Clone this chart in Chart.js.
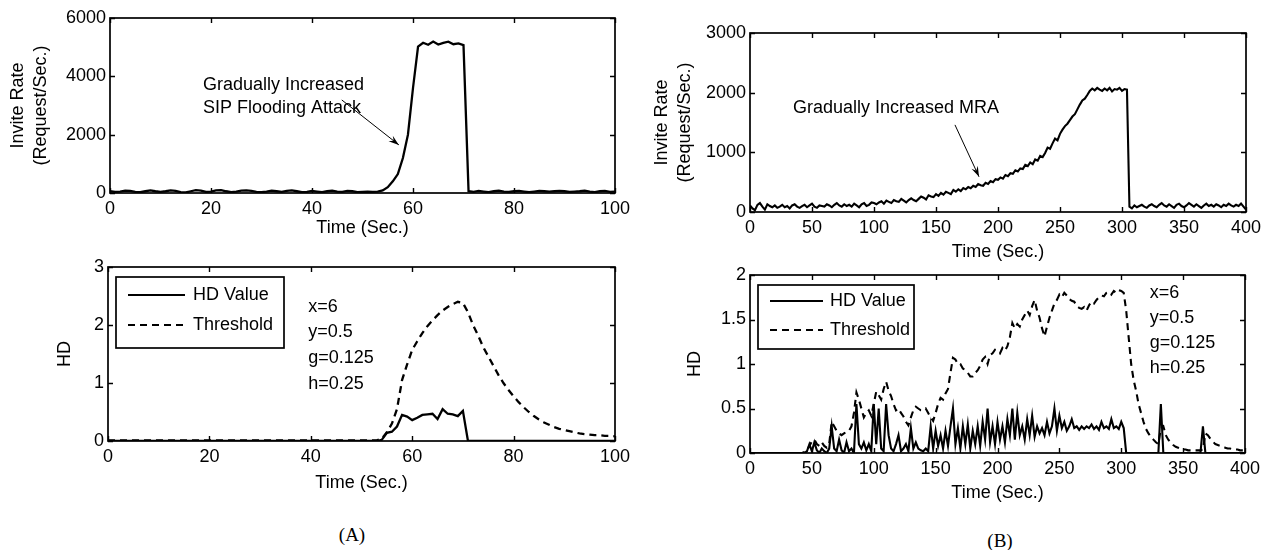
<!DOCTYPE html>
<html><head><meta charset="utf-8">
<script src="https://cdn.jsdelivr.net/npm/chart.js@4/dist/chart.umd.min.js"></script>
<style>
html,body{margin:0;padding:0;background:#fff;}
#wrap{position:relative;width:1269px;height:550px;overflow:hidden;background:#fff;}
canvas{position:absolute;}
.cap{position:absolute;font-family:"Liberation Serif","Times New Roman",serif;font-size:19px;color:#000;transform:translate(-50%,-50%);white-space:nowrap;}
</style></head><body>
<div id="wrap">
<canvas id="cA1" width="640" height="250" style="left:0;top:0"></canvas>
<canvas id="cA2" width="640" height="250" style="left:0;top:250px"></canvas>
<canvas id="cB1" width="629" height="270" style="left:640px;top:0"></canvas>
<canvas id="cB2" width="629" height="252" style="left:640px;top:258px"></canvas>
<div class="cap" style="left:352px;top:535px">(A)</div>
<div class="cap" style="left:1000px;top:541px">(B)</div>
</div>
<script>
// ---------- Panel A (1 s step, t = 0..100) ----------
const inviteA = [
  60, 40, 50, 80, 70, 40, 30, 60, 90, 60,
  40, 60, 90, 70, 30, 20, 60, 100, 80, 40,
  50, 90, 100, 60, 30, 50, 80, 90, 70, 40,
  30, 50, 80, 60, 40, 70, 90, 60, 30, 40,
  70, 50, 30, 60, 80, 50, 40, 70, 60, 30,
  40, 50, 40, 50, 90, 200, 400, 650, 1200, 2000,
  3600, 5020, 5150, 5080, 5190, 5090, 5150, 5190, 5100, 5130,
  5070, 60, 40, 70, 50, 30, 60, 80, 50, 40,
  60, 70, 50, 30, 50, 70, 60, 50, 60, 70,
  60, 40, 50, 60, 80, 50, 30, 60, 70, 40,
  50
];
const hdA = [
  0,0,0,0,0,0,0,0,0,0,
  0,0,0,0,0,0,0,0,0,0,
  0,0,0,0,0,0,0,0,0,0,
  0,0,0,0,0,0,0,0,0,0,
  0,0,0,0,0,0,0,0,0,0,
  0,0,0,0,0.02,0.14,0.16,0.25,0.45,0.42,
  0.36,0.4,0.45,0.46,0.47,0.38,0.55,0.47,0.46,0.43,
  0.52,0,0,0,0,0,0,0,0,0,
  0,0,0,0,0,0,0,0,0,0,
  0,0,0,0,0,0,0,0,0,0,
  0
];
const thresholdA = [
  0.01,0.01,0.01,0.01,0.01,0.01,0.01,0.01,0.01,0.01,
  0.01,0.01,0.01,0.01,0.01,0.01,0.01,0.01,0.01,0.01,
  0.01,0.01,0.01,0.01,0.01,0.01,0.01,0.01,0.01,0.01,
  0.01,0.01,0.01,0.01,0.01,0.01,0.01,0.01,0.01,0.01,
  0.01,0.01,0.01,0.01,0.01,0.01,0.01,0.01,0.01,0.01,
  0.01,0.01,0.01,0.01,0.04,0.15,0.3,0.55,1.05,1.32,
  1.57,1.72,1.86,1.98,2.08,2.17,2.25,2.31,2.36,2.4,
  2.38,2.22,2.0,1.82,1.62,1.46,1.3,1.14,1.0,0.88,
  0.77,0.67,0.58,0.5,0.43,0.37,0.32,0.28,0.24,0.21,
  0.19,0.17,0.15,0.13,0.12,0.11,0.1,0.1,0.09,0.09,
  0.08
];
const timeA = inviteA.map((_, i) => i);
const xTicksA = [0, 20, 40, 60, 80, 100];
const yTicksA1 = [0, 2000, 4000, 6000];
const yTicksA2 = [0, 1, 2, 3];

// ---------- Panel B (2 s step, t = 0..400) ----------
const inviteB = [
  110, 60, 30, 120, 150, 90, 40, 130, 100, 80,
  110, 70, 90, 120, 80, 100, 60, 110, 130, 90,
  70, 100, 120, 80, 110, 140, 90, 70, 110, 100,
  90, 130, 110, 80, 120, 150, 110, 90, 130, 100,
  120, 90, 140, 110, 80, 130, 150, 100, 120, 160,
  150, 130, 160, 180, 140, 190, 170, 150, 200, 180,
  170, 220, 190, 160, 200, 230, 200, 180, 220, 260,
  240, 210, 280, 260, 250, 300, 270, 320, 290, 340,
  320, 300, 370, 340, 380, 350, 400, 380, 420, 400,
  440, 420, 470, 450, 440, 490, 470, 520, 500, 550,
  540, 580, 560, 620, 600, 650, 640, 700, 680, 730,
  720, 790, 770, 830, 800, 880, 860, 940, 920, 990,
  1080, 1060, 1150, 1230, 1200, 1310, 1380, 1440, 1480, 1540,
  1600, 1640, 1720, 1800, 1870, 1900, 1960, 2030, 2070, 2040,
  2080, 2050, 2030, 2070, 2040, 2080, 2020, 2060, 2050, 2080,
  2030, 2060, 2050, 90, 60, 110, 80, 100, 120, 90,
  70, 110, 130, 100, 80, 120, 150, 110, 90, 130,
  100, 70, 120, 140, 100, 80, 110, 150, 120, 90,
  130, 100, 70, 110, 140, 100, 120, 90, 130, 110,
  80, 120, 100, 140, 110, 90, 120, 100, 140, 90,
  40
];
const hdB = [
  0,0,0,0,0,0,0,0,0,0,
  0,0,0,0,0,0,0,0,0,0,
  0,0,0,0.02,0.1,0.02,0.12,0.03,0,0.05,
  0.02,0,0.05,0.3,0.05,0.02,0.15,0.03,0,0.12,
  0.02,0.05,0,0.55,0.1,0.05,0.12,0.03,0.1,0.02,
  0.55,0.1,0.5,0.05,0.02,0.55,0.2,0.05,0.02,0.1,
  0.2,0.02,0.05,0.1,0.02,0.28,0.05,0.12,0.05,0.03,
  0.02,0.05,0.02,0.3,0.05,0.25,0.08,0.2,0.05,0.25,
  0.08,0.3,0.5,0.1,0.28,0.05,0.3,0.1,0.32,0.05,
  0.25,0.1,0.3,0.08,0.35,0.15,0.5,0.12,0.3,0.1,
  0.35,0.15,0.3,0.12,0.38,0.2,0.5,0.15,0.45,0.2,
  0.3,0.15,0.38,0.2,0.42,0.18,0.3,0.22,0.28,0.2,
  0.35,0.22,0.3,0.5,0.25,0.42,0.28,0.35,0.25,0.3,
  0.38,0.28,0.3,0.26,0.3,0.27,0.3,0.28,0.32,0.27,
  0.3,0.26,0.35,0.28,0.3,0.27,0.38,0.28,0.3,0.27,
  0.35,0.28,0,0,0,0,0,0,0,0,
  0,0,0,0,0,0,0.55,0,0,0,
  0,0,0,0,0,0,0,0,0,0,
  0,0,0,0.3,0,0,0,0,0,0,
  0,0,0,0,0,0,0,0,0,0,
  0
];
const thresholdB = [
  0,0,0,0,0,0,0,0,0,0,
  0,0,0,0,0,0,0,0,0,0,
  0,0,0.01,0.03,0.08,0.13,0.15,0.1,0.08,0.12,
  0.08,0.06,0.1,0.35,0.3,0.25,0.22,0.2,0.22,0.24,
  0.25,0.3,0.45,0.68,0.6,0.5,0.4,0.45,0.48,0.42,
  0.55,0.69,0.65,0.6,0.72,0.8,0.7,0.64,0.55,0.48,
  0.5,0.45,0.41,0.35,0.31,0.4,0.48,0.52,0.5,0.48,
  0.48,0.5,0.45,0.4,0.36,0.45,0.55,0.62,0.6,0.67,
  0.72,0.9,1.07,1.05,1.0,1.0,0.95,0.93,0.9,0.86,
  0.86,0.9,0.93,0.98,1.05,1.08,1.0,1.1,1.12,1.16,
  1.15,1.12,1.18,1.15,1.2,1.3,1.46,1.4,1.45,1.42,
  1.5,1.55,1.6,1.55,1.65,1.72,1.6,1.52,1.4,1.31,
  1.42,1.52,1.6,1.68,1.72,1.78,1.75,1.8,1.77,1.73,
  1.71,1.7,1.65,1.63,1.62,1.64,1.6,1.66,1.7,1.68,
  1.72,1.75,1.77,1.76,1.8,1.81,1.78,1.82,1.8,1.83,
  1.82,1.8,1.6,1.3,1.0,0.82,0.7,0.55,0.45,0.35,
  0.27,0.22,0.18,0.15,0.12,0.1,0.28,0.3,0.2,0.15,
  0.12,0.09,0.07,0.06,0.05,0.04,0.04,0.03,0.03,0.03,
  0.03,0.03,0.03,0.04,0.22,0.2,0.16,0.13,0.1,0.09,
  0.08,0.07,0.06,0.05,0.05,0.04,0.04,0.04,0.03,0.03,
  0.03
];
const timeB = inviteB.map((_, i) => i * 2);
const xTicksB = [0, 50, 100, 150, 200, 250, 300, 350, 400];
const yTicksB1 = [0, 1000, 2000, 3000];
const yTicksB2 = [0, 0.5, 1, 1.5, 2];

const paramLines = ['x=6', 'y=0.5', 'g=0.125', 'h=0.25'];
const legendLabels = ['HD Value', 'Threshold'];

// ---------- drawing helpers ----------
const FAM = '"Liberation Sans", Arial, Helvetica, sans-serif';
const FS = 18;

const decorPlugin = {
  id: 'decor',
  afterDatasetsDraw(chart, args, opts) {
    const ctx = chart.ctx, a = chart.chartArea, xs = chart.scales.x, ys = chart.scales.y;
    ctx.save();
    ctx.strokeStyle = '#000';
    ctx.lineWidth = 1.7;
    ctx.strokeRect(a.left, a.top, a.right - a.left, a.bottom - a.top);
    ctx.lineWidth = 1.4;
    const tl = 5;
    ctx.beginPath();
    xs.ticks.forEach(t => {
      const px = Math.round(xs.getPixelForValue(t.value)) + 0.5;
      ctx.moveTo(px, a.bottom); ctx.lineTo(px, a.bottom - tl);
      ctx.moveTo(px, a.top); ctx.lineTo(px, a.top + tl);
    });
    ys.ticks.forEach(t => {
      const py = Math.round(ys.getPixelForValue(t.value)) + 0.5;
      ctx.moveTo(a.left, py); ctx.lineTo(a.left + tl, py);
      ctx.moveTo(a.right, py); ctx.lineTo(a.right - tl, py);
    });
    ctx.stroke();
    ctx.fillStyle = '#000';
    ctx.font = FS + 'px ' + FAM;
    ctx.textBaseline = 'middle';
    ctx.textAlign = 'left';
    const texts = opts.texts || [];
    for (let i = 0; i < texts.length; i++) {
      const t = texts[i];
      ctx.fillText(t.text, xs.getPixelForValue(t.x), ys.getPixelForValue(t.y));
    }
    if (opts.arrow) {
      const ar = opts.arrow;
      const x1 = xs.getPixelForValue(ar.x1), y1 = ys.getPixelForValue(ar.y1);
      const x2 = xs.getPixelForValue(ar.x2), y2 = ys.getPixelForValue(ar.y2);
      ctx.lineWidth = 1;
      ctx.beginPath(); ctx.moveTo(x1, y1); ctx.lineTo(x2, y2); ctx.stroke();
      const ang = Math.atan2(y2 - y1, x2 - x1), L = 11, sp = 0.32;
      ctx.beginPath();
      ctx.moveTo(x2, y2);
      ctx.lineTo(x2 - L * Math.cos(ang - sp), y2 - L * Math.sin(ang - sp));
      ctx.lineTo(x2 - L * 0.6 * Math.cos(ang), y2 - L * 0.6 * Math.sin(ang));
      ctx.lineTo(x2 - L * Math.cos(ang + sp), y2 - L * Math.sin(ang + sp));
      ctx.closePath(); ctx.fill();
    }
    if (opts.legend) {
      const lg = opts.legend;
      const bx = a.left + lg.dx, by = a.top + lg.dy;
      ctx.fillStyle = '#fff';
      ctx.fillRect(bx, by, lg.w, lg.h);
      ctx.lineWidth = 1.7;
      ctx.strokeStyle = '#000';
      ctx.strokeRect(bx, by, lg.w, lg.h);
      ctx.fillStyle = '#000';
      chart.data.datasets.forEach((ds, i) => {
        const yy = by + lg.rows[i];
        ctx.lineWidth = 2.2;
        ctx.setLineDash(ds.borderDash || []);
        ctx.beginPath(); ctx.moveTo(bx + lg.l1, yy); ctx.lineTo(bx + lg.l2, yy); ctx.stroke();
        ctx.setLineDash([]);
        ctx.fillText(ds.label, bx + lg.tx, yy);
      });
    }
    ctx.restore();
  }
};

function makeChart(id, c) {
  const font = { family: FAM, size: FS };
  return new Chart(document.getElementById(id), {
    type: 'line',
    data: { datasets: c.datasets },
    options: {
      responsive: false, animation: false, events: [],
      layout: { padding: { top: c.padTop, right: c.padRight, left: 0, bottom: 0 } },
      plugins: { legend: { display: false }, tooltip: { enabled: false }, decor: c.decor },
      scales: {
        x: {
          type: 'linear', position: 'bottom', min: c.xTicks[0], max: c.xTicks[c.xTicks.length - 1],
          grid: { display: false, drawTicks: false }, border: { display: false },
          afterBuildTicks: s => { s.ticks = c.xTicks.map(v => ({ value: v })); },
          ticks: { font, color: '#000', padding: 5, maxRotation: 0, autoSkip: false, callback: v => String(v) },
          title: { display: true, text: 'Time (Sec.)', color: '#000', font: { family: FAM, size: FS, lineHeight: 1.2 }, padding: { top: 0, bottom: c.xTitlePad } },
          afterFit: s => { s.height = c.xHeight; }
        },
        y: {
          type: 'linear', position: 'left', min: c.yTicks[0], max: c.yTicks[c.yTicks.length - 1],
          grid: { display: false, drawTicks: false }, border: { display: false },
          afterBuildTicks: s => { s.ticks = c.yTicks.map(v => ({ value: v })); },
          ticks: { font, color: '#000', padding: 4, autoSkip: false, callback: v => String(v) },
          title: { display: true, text: c.yTitle, color: '#000', font: { family: FAM, size: FS, lineHeight: 1.3 }, padding: { top: c.yTitlePad, bottom: 0 } },
          afterFit: s => { s.width = c.yWidth; }
        }
      }
    },
    plugins: [decorPlugin]
  });
}

function series(label, t, v, dash, w) {
  return {
    label, data: v.map((y, i) => ({ x: t[i], y })),
    borderColor: '#000', backgroundColor: '#000', borderWidth: w || 2,
    borderDash: dash || [], pointRadius: 0, tension: 0, fill: false
  };
}

// A top
makeChart('cA1', {
  datasets: [series('Invite Rate', timeA, inviteA, null, 2.3)],
  xTicks: xTicksA, yTicks: yTicksA1, yTitle: ['Invite Rate', '(Request/Sec.)'], yTitlePad: 6.3,
  yWidth: 110, xHeight: 57, padTop: 18, padRight: 25, xTitlePad: 11,
  decor: {
    texts: [
      { text: 'Gradually Increased', x: 18.4, y: 3700 },
      { text: 'SIP Flooding Attack', x: 18.4, y: 2910 }
    ],
    arrow: { x1: 45.9, y1: 3190, x2: 57.2, y2: 1650 }
  }
});
// A bottom
makeChart('cA2', {
  datasets: [series(legendLabels[0], timeA, hdA, null, 2.3), series(legendLabels[1], timeA, thresholdA, [7, 5], 2.3)],
  xTicks: xTicksA, yTicks: yTicksA2, yTitle: 'HD', yTitlePad: 53,
  yWidth: 108, xHeight: 59, padTop: 17, padRight: 25, xTitlePad: 6,
  decor: {
    texts: paramLines.map((s, i) => ({ text: s, x: 39.5, y: [2.31, 1.88, 1.43, 0.98][i] })),
    legend: { dx: 8, dy: 10, w: 168, h: 71, l1: 12, l2: 69, tx: 77, rows: [18, 48] }
  }
});
// B top
makeChart('cB1', {
  datasets: [series('Invite Rate', timeB, inviteB, null, 2.1)],
  xTicks: xTicksB, yTicks: yTicksB1, yTitle: ['Invite Rate', '(Request/Sec.)'], yTitlePad: 10,
  yWidth: 110, xHeight: 58, padTop: 33, padRight: 23, xTitlePad: 7,
  decor: {
    texts: [{ text: 'Gradually Increased MRA', x: 34.7, y: 1745 }],
    arrow: { x1: 165.3, y1: 1460, x2: 184.7, y2: 590 }
  }
});
// B bottom
makeChart('cB2', {
  datasets: [series(legendLabels[0], timeB, hdB, null, 2.1), series(legendLabels[1], timeB, thresholdB, [7, 5], 2.1)],
  xTicks: xTicksB, yTicks: yTicksB2, yTitle: 'HD', yTitlePad: 43,
  yWidth: 110, xHeight: 57, padTop: 17, padRight: 24, xTitlePad: 6,
  decor: {
    texts: paramLines.map((s, i) => ({ text: s, x: 323, y: [1.8, 1.52, 1.24, 0.96][i] })),
    legend: { dx: 8, dy: 10, w: 156, h: 64, l1: 12, l2: 65, tx: 72, rows: [16, 45] }
  }
});
</script>
</body></html>
